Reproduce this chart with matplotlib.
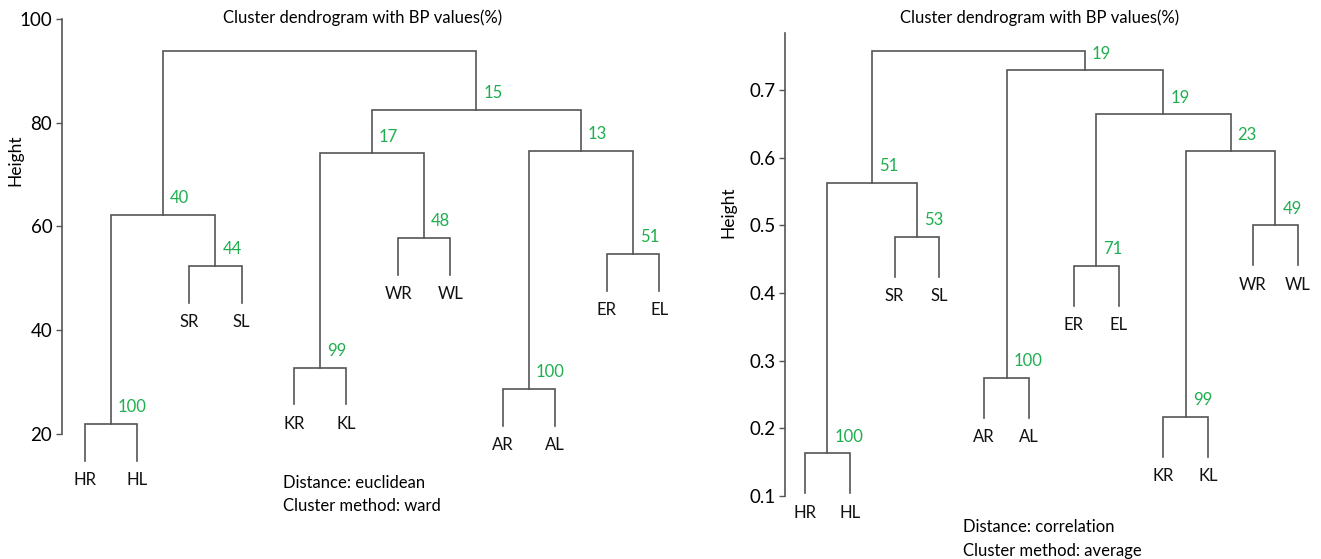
import matplotlib
matplotlib.use("Agg")
import matplotlib.pyplot as plt

plt.rcParams["font.family"] = ["Lato", "DejaVu Sans"]

# ---- data: left tree (euclidean / ward) ----
left_labels = ["HR", "HL", "SR", "SL", "KR", "KL", "WR", "WL", "AR", "AL", "ER", "EL"]
# R-style merge rows: negative = leaf (1-based), positive = earlier merge row (1-based)
left_merge = [(-1, -2), (-3, -4), (-5, -6), (-7, -8), (-9, -10), (-11, -12),
              (1, 2), (3, 4), (5, 6), (8, 9), (7, 10)]
left_height = [21.9, 52.4, 32.8, 57.8, 28.7, 54.7, 62.3, 74.1, 74.6, 82.5, 93.9]
left_bp = [100, 44, 99, 48, 100, 51, 40, 17, 13, 15, None]
left_yticks = [20, 40, 60, 80, 100]

# ---- data: right tree (correlation / average) ----
right_labels = ["HR", "HL", "SR", "SL", "AR", "AL", "ER", "EL", "KR", "KL", "WR", "WL"]
right_merge = [(-1, -2), (-9, -10), (-5, -6), (-7, -8), (-3, -4), (-11, -12),
               (1, 5), (2, 6), (4, 8), (3, 9), (7, 10)]
right_height = [0.163, 0.217, 0.275, 0.440, 0.483, 0.500, 0.563, 0.609, 0.664, 0.729, 0.758]
right_bp = [100, 99, 100, 71, 53, 49, 51, 23, 19, 19, None]
right_yticks = [0.1, 0.2, 0.3, 0.4, 0.5, 0.6, 0.7]

LINE = "#555555"
GREEN = "#1fae4f"


def draw_tree(ax, labels, merge, heights, bp, hang):
    node_x = []
    for i, (a, b) in enumerate(merge):
        h = heights[i]
        xs, ys = [], []
        for c in (a, b):
            if c < 0:
                x = -c
                y = h - hang
                ax.annotate(labels[x - 1], (x, y), xytext=(0, -14), textcoords="offset points",
                            ha="center", va="center", fontsize=12, color="#111111",
                            annotation_clip=False)
            else:
                x = node_x[c - 1]
                y = heights[c - 1]
            xs.append(x)
            ys.append(y)
        ax.plot([xs[0], xs[0], xs[1], xs[1]], [ys[0], h, h, ys[1]],
                color=LINE, lw=1.2, clip_on=False, solid_joinstyle="miter")
        mid = (xs[0] + xs[1]) / 2
        node_x.append(mid)
        if bp[i] is not None:
            ax.annotate(str(bp[i]), (mid, h), xytext=(5, 12), textcoords="offset points",
                        ha="left", va="center", fontsize=12, color=GREEN,
                        annotation_clip=False)


fig = plt.figure(figsize=(13.21, 5.59), dpi=100)
W, H = 1321, 559

ax1 = fig.add_axes([62 / W, 0, 618 / W, 540 / H])
ax2 = fig.add_axes([785 / W, 0, 533 / W, 526 / H])

draw_tree(ax1, left_labels, left_merge, left_height, left_bp, hang=7.1)
draw_tree(ax2, right_labels, right_merge, right_height, right_bp, hang=0.059)

ax1.set_xlim(0.56, 12.4)
ax1.set_ylim(-4.1, 100)
ax1.spines.left.set_bounds(20, 100)
ax1.set_yticks(left_yticks)

ax2.set_xlim(0.554, 12.45)
ax2.set_ylim(0.007, 0.784)
ax2.spines.left.set_bounds(0.1, 0.784)
ax2.set_yticks(right_yticks)
ax2.set_yticklabels([f"{v:.1f}" for v in right_yticks])

for ax in (ax1, ax2):
    ax.patch.set_visible(False)
    for s in ("top", "right", "bottom"):
        ax.spines[s].set_visible(False)
    ax.spines.left.set_color(LINE)
    ax.spines.left.set_linewidth(1.2)
    ax.set_xticks([])
    ax.tick_params(axis="y", length=4, width=1, color=LINE, pad=3, labelsize=13.5)

fig.text(363 / W, 1 - 18 / H, "Cluster dendrogram with BP values(%)", ha="center", va="center", fontsize=12)
fig.text(1040 / W, 1 - 18 / H, "Cluster dendrogram with BP values(%)", ha="center", va="center", fontsize=12)
fig.text(15 / W, 1 - 160 / H, "Height", rotation=90, ha="center", va="center", fontsize=12.5)
fig.text(728 / W, 1 - 212 / H, "Height", rotation=90, ha="center", va="center", fontsize=12.5)

fig.text(283 / W, 1 - 483 / H, "Distance: euclidean", ha="left", va="center", fontsize=12)
fig.text(283 / W, 1 - 506 / H, "Cluster method: ward", ha="left", va="center", fontsize=12)
fig.text(963 / W, 1 - 527 / H, "Distance: correlation", ha="left", va="center", fontsize=12)
fig.text(963 / W, 1 - 551 / H, "Cluster method: average", ha="left", va="center", fontsize=12)

fig.savefig("out.png", dpi=100)
